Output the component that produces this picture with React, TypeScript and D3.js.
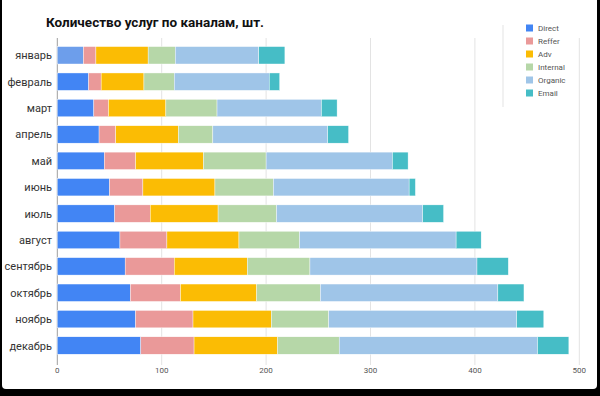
import React from "react";
import * as d3 from "d3";

const months = ["январь", "февраль", "март", "апрель", "май", "июнь", "июль", "август", "сентябрь", "октябрь", "ноябрь", "декабрь"];
const seriesNames = ["Direct", "Reffer", "Adv", "Internal", "Organic", "Email"];
const direct = [25, 30, 35, 40, 45, 50, 55, 60, 65, 70, 75, 80];
const reffer = [12, 12, 14, 16, 30, 32, 34, 45, 47, 48, 55, 51];
const adv = [50, 41, 55, 60, 65, 69, 65, 69, 70, 73, 75, 80];
const internal = [26, 29, 49, 33, 60, 56, 56, 58, 60, 61, 55, 59];
const organic = [80, 91, 100, 110, 121, 130, 140, 150, 160, 170, 180, 190];
const email = [25, 10, 15, 20, 15, 6, 20, 24, 30, 25, 26, 30];
const xTicks = [0, 100, 200, 300, 400, 500];

const colors = ["#4285f4", "#ea9999", "#fbbc04", "#b6d7a8", "#9fc5e8", "#46bdc6"];
const FONT = "Roboto, 'Noto Sans', sans-serif";

export default function App() {
  const W = 600;
  const H = 396;
  const x = d3.scaleLinear().domain([0, 500]).range([57.3, 579.3]);
  const y = d3.scaleBand<string>().domain(months).range([42.1, 358.7]).paddingInner(0.34).paddingOuter(0.17);

  const rows = months.map((m, i) => {
    const o: Record<string, any> = { month: m };
    [direct, reffer, adv, internal, organic, email].forEach((arr, k) => (o[seriesNames[k]] = arr[i]));
    return o;
  });
  const stacked = d3.stack<any>().keys(seriesNames)(rows);

  return (
    <svg width={W} height={H} style={{ position: "fixed", left: 0, top: 0 }}>
      <rect x={0} y={0} width={W} height={H} fill="#000" />
      <rect x={2} y={-6} width={595} height={395} rx={4} fill="#fff" />
      <text x={46} y={27} fontFamily={FONT} fontWeight="bold" fontSize={13.5} fill="#111">
        Количество услуг по каналам, шт.
      </text>

      {/* gridlines */}
      {xTicks.map((t) => (
        <g key={t}>
          <line x1={x(t)} x2={x(t)} y1={38} y2={365} stroke={t === 0 ? "#9e9e9e" : "#e3e3e3"} strokeWidth={1} />
          <text x={x(t)} y={373} textAnchor="middle" fontFamily={FONT} fontSize={8} fill="#555">
            {t}
          </text>
        </g>
      ))}

      {/* bars */}
      {stacked.map((layer, k) => (
        <g key={layer.key}>
          {layer.map((d, i) => (
            <rect
              key={i}
              x={x(d[0])}
              y={y(months[i])}
              width={x(d[1]) - x(d[0])}
              height={y.bandwidth()}
              fill={k === 0 && i === 0 ? "#6d9eeb" : colors[k]}
              stroke="#fff"
              strokeWidth={0.4}
            />
          ))}
        </g>
      ))}

      {/* month labels */}
      {months.map((m) => (
        <text key={m} x={52} y={(y(m) || 0) + y.bandwidth() / 2 + 4} textAnchor="end" fontFamily={FONT} fontSize={11} fill="#333">
          {m}
        </text>
      ))}

      {/* legend */}
      <line x1={503} x2={503} y1={25} y2={107} stroke="#e3e3e3" />
      {seriesNames.map((s, k) => (
        <g key={s} transform={`translate(526,${24.5 + k * 13})`}>
          <rect width={7} height={7} fill={colors[k]} />
          <text x={12} y={6.5} fontFamily={FONT} fontSize={8} fill="#555">
            {s}
          </text>
        </g>
      ))}
    </svg>
  );
}
